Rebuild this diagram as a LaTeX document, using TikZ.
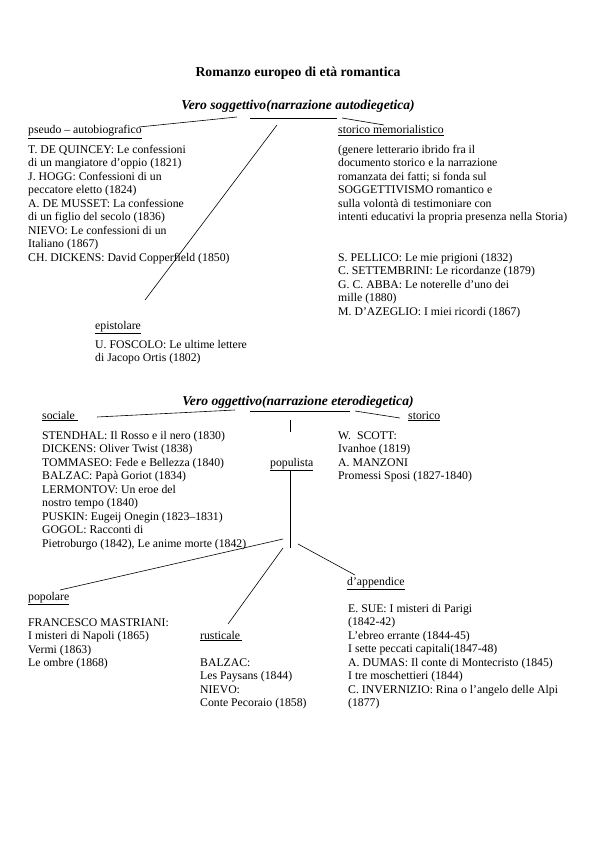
\documentclass[tikz,border=0pt]{standalone}
\usepackage{fontspec}
\setmainfont{Liberation Serif}
\begin{document}
\begin{tikzpicture}[x=1pt,y=-1pt,
  txt/.style={font=\fontsize{11.75}{13.5}\selectfont, inner sep=0pt, anchor=base west},
  blk/.style={font=\fontsize{11.75}{13.5}\selectfont, inner sep=0pt, anchor=north west, align=left, yshift=9.45pt},
  ttl/.style={font=\bfseries\fontsize{13.7}{15}\selectfont, inner sep=0pt, anchor=base},
  hd/.style={font=\bfseries\itshape\fontsize{13.6}{15}\selectfont, inner sep=0pt, anchor=base},
  ln/.style={line width=0.6pt}
]
\useasboundingbox (0,0) rectangle (595,842);

% ---- title
\node[ttl] (title) at (298,77) {Romanzo europeo di età romantica};

% ---- section 1
\node[hd] (vs) at (298,110) {Vero soggettivo(narrazione autodiegetica)};
\node[txt] (pseudo) at (28,134) {\underline{pseudo – autobiografico}};
\node[txt] (stmem) at (338,134) {\underline{storico memorialistico}};
\node[blk] (pseudoT) at (28,153) {\strut T. DE QUINCEY: Le confessioni\\di un mangiatore d’oppio (1821)\\J. HOGG: Confessioni di un\\peccatore eletto (1824)\\A. DE MUSSET: La confessione\\di un figlio del secolo (1836)\\NIEVO: Le confessioni di un\\Italiano (1867)\\CH. DICKENS: David Copperfield (1850)};
\node[blk] (stmemD) at (338,153) {\strut (genere letterario ibrido fra il\\documento storico e la narrazione\\romanzata dei fatti; si fonda sul\\SOGGETTIVISMO romantico e\\sulla volontà di testimoniare con\\intenti educativi la propria presenza nella Storia)};
\node[blk] (stmemT) at (338,261) {\strut S. PELLICO: Le mie prigioni (1832)\\C. SETTEMBRINI: Le ricordanze (1879)\\G. C. ABBA: Le noterelle d’uno dei\\mille (1880)\\M. D’AZEGLIO: I miei ricordi (1867)};
\node[txt] (epist) at (95,329) {\underline{epistolare}};
\node[blk] (epistT) at (95,348) {\strut U. FOSCOLO: Le ultime lettere\\di Jacopo Ortis (1802)};

\coordinate (s1hL) at (250,118);
\coordinate (s1hR) at (337,118);
\coordinate (s1lA) at (237,117);
\coordinate (s1lB) at (139,127);
\coordinate (s1rA) at (342,118);
\coordinate (s1rB) at (384,125);
\coordinate (s1dA) at (277,125);
\coordinate (s1dB) at (145,300);
\draw[ln] (s1hL) -- (s1hR);
\draw[ln] (s1lA) -- (s1lB);
\draw[ln] (s1rA) -- (s1rB);
\draw[ln] (s1dA) -- (s1dB);

% ---- section 2
\node[hd] (vo) at (298,405) {Vero oggettivo(narrazione eterodiegetica)};
\node[txt] (soc) at (42,419) {\underline{sociale\ }};
\node[txt] (sto) at (408,419) {\underline{storico}};
\node[blk] (socT) at (42,439) {\strut STENDHAL: Il Rosso e il nero (1830)\\DICKENS: Oliver Twist (1838)\\TOMMASEO: Fede e Bellezza (1840)\\BALZAC: Papà Goriot (1834)\\LERMONTOV: Un eroe del\\nostro tempo (1840)\\PUSKIN: Eugeij Onegin (1823–1831)\\GOGOL: Racconti di\\Pietroburgo (1842), Le anime morte (1842)};
\node[blk] (stoT) at (338,439) {\strut W.\ \ SCOTT:\\Ivanhoe (1819)\\A. MANZONI\\Promessi Sposi (1827-1840)};
\node[txt] (pop) at (270,466) {\underline{populista}};
\node[txt] (app) at (347,585) {\underline{d’appendice}};
\node[txt] (popol) at (28,600) {\underline{popolare}};
\node[blk] (popolT) at (28,626) {\strut FRANCESCO MASTRIANI:\\I misteri di Napoli (1865)\\Vermi (1863)\\Le ombre (1868)};
\node[txt] (rust) at (200,639) {\underline{rusticale\,}};
\node[blk] (rustT) at (200,666) {\strut BALZAC:\\Les Paysans (1844)\\NIEVO:\\Conte Pecoraio (1858)};
\node[blk] (appT) at (348,612) {\strut E. SUE: I misteri di Parigi\\(1842-42)\\L’ebreo errante (1844-45)\\I sette peccati capitali(1847-48)\\A. DUMAS: Il conte di Montecristo (1845)\\I tre moschettieri (1844)\\C. INVERNIZIO: Rina o l’angelo delle Alpi\\(1877)};

\coordinate (s2hL) at (250,411);
\coordinate (s2hR) at (350,411);
\coordinate (s2lA) at (235,410);
\coordinate (s2lB) at (97,417);
\coordinate (s2rA) at (355,411);
\coordinate (s2rB) at (400,418);
\coordinate (s2tA) at (290,420);
\coordinate (s2tB) at (290,432);
\coordinate (s2vA) at (290,470);
\coordinate (s2vB) at (290,548);
\coordinate (s2pA) at (283,539);
\coordinate (s2pB) at (60,590);
\coordinate (s2uA) at (283,548);
\coordinate (s2uB) at (228,624);
\coordinate (s2aA) at (298,544);
\coordinate (s2aB) at (355,575);
\draw[ln] (s2hL) -- (s2hR);
\draw[ln] (s2lA) -- (s2lB);
\draw[ln] (s2rA) -- (s2rB);
\draw[ln] (s2tA) -- (s2tB);
\draw[ln] (s2vA) -- (s2vB);
\draw[ln] (s2pA) -- (s2pB);
\draw[ln] (s2uA) -- (s2uB);
\draw[ln] (s2aA) -- (s2aB);
\end{tikzpicture}
\end{document}
